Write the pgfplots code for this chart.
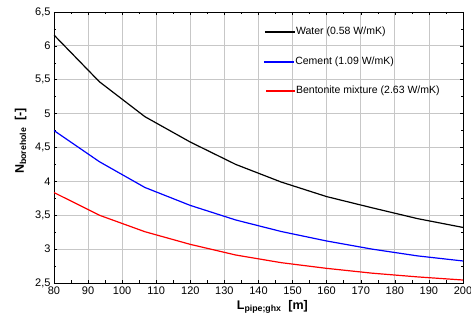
\documentclass[border=0pt]{standalone}
\usepackage{fontspec}
\setmainfont{Liberation Sans}
\usepackage{pgfplots}
\pgfplotsset{compat=1.18}
\begin{document}
\begin{tikzpicture}
\begin{axis}[
  at={(0pt,0pt)}, anchor=south west,
  scale only axis,
  width=409pt, height=271pt,
  xmin=80, xmax=200, ymin=2.5, ymax=6.5,
  xtick={80,90,...,200},
  ytick={2.5,3,...,6.5},
  minor x tick num=1,
  minor y tick num=1,
  tick align=inside,
  major tick length=3pt, minor tick length=2.5pt,
  grid=major,
  major grid style={color=black!22, line width=0.8pt},
  axis line style={black, line width=0.6pt},
  tick style={black, line width=0.5pt},
  ticklabel style={font=\fontsize{11}{12}\selectfont},
  xticklabel style={/pgf/number format/assume math mode=true},
  yticklabel style={/pgf/number format/assume math mode=true, /pgf/number format/use comma, /pgf/number format/fixed},
  xlabel={\fontsize{12.5}{13}\selectfont\bfseries L\textsubscript{pipe;ghx}\ \ [m]},
  ylabel={\fontsize{12.5}{13}\selectfont\bfseries N\textsubscript{borehole}\ \ [-]},
  xlabel style={at={(axis description cs:0.534,0)}, anchor=north, yshift=-14pt},
  ylabel style={at={(axis description cs:0,0.524)}, anchor=south, yshift=24pt},
]
\addplot[draw=black, line width=1.2pt] coordinates {
(80,6.16) (93.33,5.47) (106.67,4.955) (120,4.58) (133.33,4.25) (146.67,3.99)
(160,3.775) (173.33,3.61) (186.67,3.45) (200,3.32)};
\addplot[draw=blue, line width=1.2pt] coordinates {
(80,4.75) (93.33,4.29) (106.67,3.91) (120,3.645) (133.33,3.43) (146.67,3.26)
(160,3.12) (173.33,3.0) (186.67,2.90) (200,2.825)};
\addplot[draw=red, line width=1.2pt] coordinates {
(80,3.835) (93.33,3.50) (106.67,3.257) (120,3.07) (133.33,2.913) (146.67,2.80)
(160,2.716) (173.33,2.645) (186.67,2.59) (200,2.544)};
% legend samples
\addplot[draw=black, line width=1.2pt] coordinates {(141.9,6.205) (150.7,6.205)};
\addplot[draw=blue, line width=1.2pt] coordinates {(141.6,5.762) (150.4,5.762)};
\addplot[draw=red, line width=1.2pt] coordinates {(142.2,5.334) (150.7,5.334)};
\node[anchor=west, inner sep=1pt, font=\fontsize{10.5}{11}\selectfont] at (axis description cs:0.589,0.926) {Water (0.58 W/mK)};
\node[anchor=west, inner sep=1pt, font=\fontsize{10.5}{11}\selectfont] at (axis description cs:0.587,0.815) {Cement (1.09 W/mK)};
\node[anchor=west, inner sep=1pt, font=\fontsize{10.5}{11}\selectfont] at (axis description cs:0.589,0.708) {Bentonite mixture (2.63 W/mK)};
\end{axis}
\pgfresetboundingbox
\path[use as bounding box] (-54pt,-37pt) rectangle (417pt,283pt);
\end{tikzpicture}
\end{document}
